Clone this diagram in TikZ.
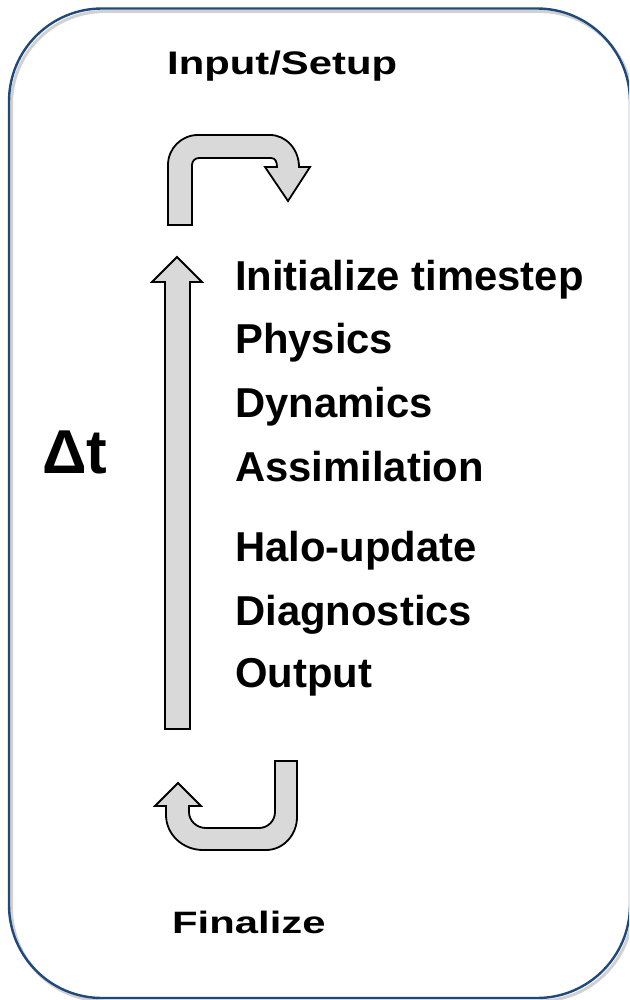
\documentclass[tikz,border=0pt]{standalone}
\usepackage{fontspec}
\setmainfont{Liberation Sans}
\usepackage{graphicx}
\definecolor{frameblue}{RGB}{31,73,125}
\definecolor{arrowgray}{RGB}{217,217,217}
\begin{document}
\begin{tikzpicture}[x=1pt,y=-1pt,
  frame/.style={draw=frameblue,line width=2.4pt,rounded corners=93pt},
  frameshadow/.style={draw=black!18,line width=3pt,rounded corners=93pt},
  arrowshape/.style={draw=black,fill=arrowgray,line width=1.8pt,line join=miter},
  steptext/.style={anchor=base west,inner sep=0pt,font=\fontsize{41.8}{50}\selectfont\bfseries},
  delta/.style={anchor=base west,inner sep=0pt,font=\fontsize{62}{70}\selectfont\bfseries}]
\useasboundingbox (0,0) rectangle (629,1000);
\clip (0,0) rectangle (629,1000);
% frame
\draw[frameshadow] (11.5,11.5) rectangle (632.5,1001);
\draw[frame] (9,8.5) rectangle (630,998);
% top U-turn arrow
\draw[arrowshape] (168,225) -- (168,165)
  .. controls (168,148.4) and (181.4,135) .. (198,135)
  -- (270,135)
  .. controls (286,135) and (299,149.3) .. (299,167)
  -- (310,167) -- (288,201) -- (265,167) -- (277,167)
  .. controls (277,162) and (275.5,158) .. (271,158)
  -- (199,158)
  .. controls (195,158) and (192,161) .. (192,165)
  -- (192,225) -- cycle;
% vertical arrow
\draw[arrowshape] (165,729) -- (165,282) -- (152,282) -- (177,257) -- (202,282)
  -- (190,282) -- (190,729) -- cycle;
% bottom U-turn arrow
\draw[arrowshape] (275,761) -- (297,761) -- (297,817)
  .. controls (297,835.2) and (283.1,850) .. (266,850)
  -- (203,850)
  .. controls (182.6,850) and (166,834.3) .. (166,815)
  -- (166,806) -- (155,806) -- (178,783) -- (201,806) -- (189,806) -- (189,812)
  .. controls (189,820.8) and (196.6,828) .. (206,828)
  -- (259,828)
  .. controls (267.8,828) and (275,820.8) .. (275,812)
  -- cycle;
% texts
\node[steptext] (setup) at (167,75) {\scalebox{1}[0.78]{Input/Setup}};
\node[steptext] (init) at (235,290.7) {Initialize timestep};
\node[steptext] (phys) at (235,353) {Physics};
\node[steptext] (dyn) at (235,417) {Dynamics};
\node[steptext] (assim) at (235,481.7) {Assimilation};
\node[steptext] (halo) at (235,561.7) {Halo-update};
\node[steptext] (diag) at (235,625) {Diagnostics};
\node[steptext] (out) at (235,687.7) {Output};
\node[steptext] (final) at (172,933) {\scalebox{1}[0.74]{Finalize}};
\node[delta] (dt) at (42,473) {Δt};
\end{tikzpicture}
\end{document}
